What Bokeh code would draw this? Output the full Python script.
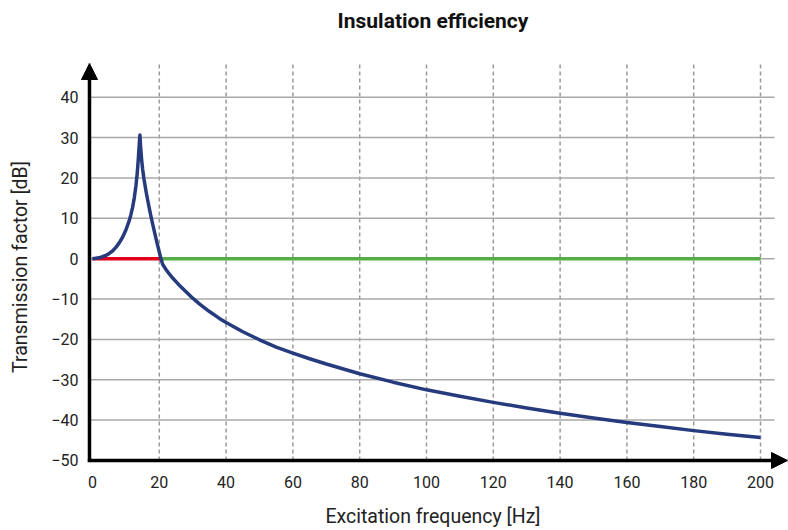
from bokeh.plotting import figure
from bokeh.models import Range1d, FixedTicker, Arrow, NormalHead, ColumnDataSource, Title
from bokeh.embed import file_html
from bokeh.resources import INLINE

# ---- data ----
freq_hz = [0, 2, 4, 5, 6, 7, 8, 9, 10, 11, 11.5, 12, 12.5, 13, 13.4, 13.7, 14.0, 14.2,
           14.4, 14.7, 15.0, 15.4, 16.0, 16.5, 17.0, 17.5, 18.0, 18.5, 19.0, 19.5, 20.0,
           20.5, 21, 22, 23, 24, 25, 26, 28, 30, 32, 35, 38, 40, 45, 50, 55, 60, 65,
           70, 80, 90, 100, 110, 120, 130, 140, 150, 160, 170, 180, 190, 200]
transmission_db = [0, 0.2, 0.8, 1.3, 1.9, 2.8, 3.9, 5.3, 7.1, 9.4, 10.9, 12.7, 15.0, 18.0,
                   21.2, 24.5, 28.4, 30.6, 27.8, 24.6, 22.2, 19.8, 16.8, 14.6, 12.5, 10.5,
                   8.6, 6.8, 5.0, 3.3, 1.6, 0.0, -1.4, -2.7, -3.8, -4.8, -5.7, -6.6, -8.2,
                   -9.8, -11.2, -13.1, -14.8, -15.8, -18.1, -20.1, -21.9, -23.4, -24.8,
                   -26.1, -28.5, -30.6, -32.5, -34.1, -35.6, -37.0, -38.3, -39.5, -40.6,
                   -41.6, -42.6, -43.5, -44.3]
amplification_zone_hz = [0, 20.5]
isolation_zone_hz = [20.5, 200]
zone_level_db = [0, 0]

x_ticks = [0, 20, 40, 60, 80, 100, 120, 140, 160, 180, 200]
y_ticks = [-50, -40, -30, -20, -10, 0, 10, 20, 30, 40]
y_tick_labels = ["\u221250", "\u221240", "\u221230", "\u221220", "\u221210",
                 "0", "10", "20", "30", "40"]
grid_end_hz = 204.2

FONT = "Roboto"

# frame extends slightly beyond the drawn axes so the arrows are not clipped
x_axis_pos = -0.9
x_start, x_end = -4.19, 208.08
y_axis_pos = -50
y_start, y_end = -52.48, 48.34

p = figure(width=788, height=530, output_backend="svg", toolbar_location=None,
           x_range=Range1d(x_start, x_end), y_range=Range1d(y_start, y_end),
           min_border_left=78, min_border_right=1, min_border_top=63,
           min_border_bottom=60, outline_line_color=None,
           title="Insulation efficiency")

p.title.align = "center"
p.title.vertical_align = "middle"
p.title.text_font = FONT
p.title.text_font_size = "21px"
p.title.text_font_style = "bold"
p.title.text_color = "#111111"
p.title.standoff = 10

# blank spacer between the title and the plot frame
p.add_layout(Title(text=" ", text_font=FONT, text_font_size="2px", standoff=21), "above")

# grids (drawn so that they stop at the axes, as in the reference)
p.xgrid.visible = False
p.ygrid.visible = False
vgrid_x = x_ticks[1:]
p.segment(x0=vgrid_x, y0=[y_axis_pos] * len(vgrid_x),
          x1=vgrid_x, y1=[y_end] * len(vgrid_x),
          line_color="#9a9a9a", line_width=1.5, line_dash="4 3")
hgrid_y = [t for t in y_ticks if t > y_axis_pos]
p.segment(x0=[x_axis_pos] * len(hgrid_y), y0=hgrid_y,
          x1=[grid_end_hz] * len(hgrid_y), y1=hgrid_y,
          line_color="#a8a8a8", line_width=1.5)

# axes (labels only; the axis lines are drawn as arrows)
for ax in (p.xaxis[0], p.yaxis[0]):
    ax.axis_line_color = None
    ax.major_tick_line_color = None
    ax.minor_tick_line_color = None
    ax.major_tick_out = 0
    ax.major_tick_in = 0
    ax.minor_tick_out = 0
    ax.minor_tick_in = 0
    ax.major_label_text_font = FONT
    ax.major_label_text_font_size = "16px"
    ax.major_label_text_color = "#222222"
    ax.axis_label_text_font = FONT
    ax.axis_label_text_font_size = "19.5px"
    ax.axis_label_text_font_style = "normal"
    ax.axis_label_text_color = "#222222"

p.xaxis.ticker = FixedTicker(ticks=x_ticks)
p.yaxis.ticker = FixedTicker(ticks=y_ticks)
p.yaxis.major_label_overrides = {t: l for t, l in zip(y_ticks, y_tick_labels)}
p.xaxis.axis_label = "Excitation frequency [Hz]"
p.yaxis.axis_label = "Transmission factor [dB]"
p.xaxis.major_label_standoff = 5
p.yaxis.major_label_standoff = 0
p.xaxis.axis_label_standoff = 14
p.yaxis.axis_label_standoff = 16

# zero lines
p.line(amplification_zone_hz, zone_level_db, line_color="#e2001a", line_width=3.5)
p.line(isolation_zone_hz, zone_level_db, line_color="#56ad47", line_width=3.5)

# transmission curve
src = ColumnDataSource(dict(f=freq_hz, db=transmission_db))
p.line("f", "db", source=src, line_color="#263a7e", line_width=3.5, line_join="round")

# axis arrows
head = dict(size=16, fill_color="black", line_color="black")
p.add_layout(Arrow(end=NormalHead(**head), x_start=x_axis_pos - 0.5, y_start=y_axis_pos,
                   x_end=x_end, y_end=y_axis_pos, line_color="black", line_width=3.5))
p.add_layout(Arrow(end=NormalHead(**head), x_start=x_axis_pos, y_start=y_axis_pos - 0.4,
                   x_end=x_axis_pos, y_end=y_end, line_color="black", line_width=3.5))

open("out.html", "w").write(file_html(p, INLINE))
